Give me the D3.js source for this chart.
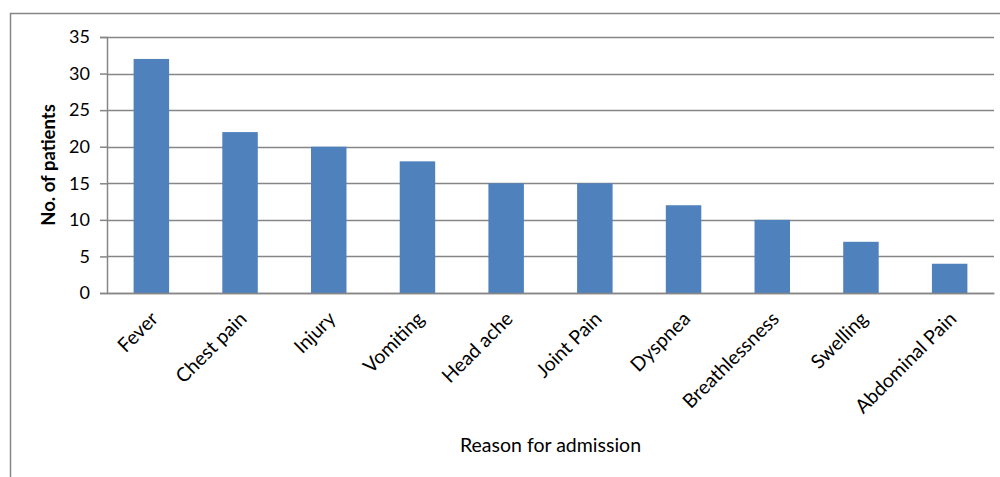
<!DOCTYPE html>
<html>
<head>
<meta charset="utf-8">
<script src="https://cdn.jsdelivr.net/npm/d3@7"></script>
<style>
  body { margin: 0; background: #fff; }
  svg { display: block; font-family: "Lato", "Open Sans", sans-serif; }
</style>
</head>
<body>
<div id="chart"></div>
<script>
// 数据
const categories = ["Fever", "Chest pain", "Injury", "Vomiting", "Head ache", "Joint Pain", "Dyspnea", "Breathlessness", "Swelling", "Abdominal Pain"];
const patients = [32, 22, 20, 18, 15, 15, 12, 10, 7, 4];
const yTicks = [0, 5, 10, 15, 20, 25, 30, 35];

const width = 1000, height = 477;
const margin = { left: 107, right: 6, top: 37, bottom: 184 };

const svg = d3.select("#chart").append("svg")
    .attr("width", width)
    .attr("height", height);

// 外框
svg.append("path")
    .attr("d", `M10.5,${height + 2} V13.5 H${width + 2}`)
    .attr("fill", "none")
    .attr("stroke", "#868686")
    .attr("stroke-width", 1.5);

const x = d3.scaleBand()
    .domain(categories)
    .range([margin.left, width - margin.right])
    .paddingInner(0.6)
    .paddingOuter(0.3);

const y = d3.scaleLinear()
    .domain([0, 35])
    .range([height - margin.bottom, margin.top]);

// 网格线
svg.append("g")
    .selectAll("line")
    .data(yTicks)
    .join("line")
    .attr("x1", margin.left)
    .attr("x2", width - margin.right)
    .attr("y1", d => Math.round(y(d)) + 0.5)
    .attr("y2", d => Math.round(y(d)) + 0.5)
    .attr("stroke", "#868686")
    .attr("stroke-width", 1.5);

// y轴
const yAxis = svg.append("g")
    .attr("transform", `translate(${margin.left},0)`)
    .call(d3.axisLeft(y).tickValues(yTicks).tickSize(7).tickPadding(10));
yAxis.select(".domain").attr("stroke", "#868686").attr("stroke-width", 1.5);
yAxis.selectAll(".tick line").attr("stroke", "#868686").attr("stroke-width", 1.5);
yAxis.selectAll(".tick text")
    .attr("font-size", "18px")
    .attr("fill", "#000")
    .attr("font-family", "Lato, sans-serif");

// 柱子
svg.append("g")
    .selectAll("rect")
    .data(categories)
    .join("rect")
    .attr("x", d => x(d))
    .attr("y", (d, i) => y(patients[i]))
    .attr("width", x.bandwidth())
    .attr("height", (d, i) => y(0) - y(patients[i]))
    .attr("fill", "#4f81bd");

// x轴
const xAxis = svg.append("g")
    .attr("transform", `translate(0,${y(0)})`)
    .call(d3.axisBottom(x).tickSize(0).tickPadding(0));
xAxis.select(".domain").attr("stroke", "#868686").attr("stroke-width", 1.5);
xAxis.selectAll(".tick text")
    .attr("font-size", "19.5px")
    .attr("fill", "#000")
    .attr("font-family", "Lato, sans-serif")
    .attr("text-anchor", "end")
    .attr("dy", 0)
    .attr("transform", "translate(8,27) rotate(-45)");

// 轴标题
svg.append("text")
    .attr("x", (margin.left + width - margin.right) / 2)
    .attr("y", 452)
    .attr("text-anchor", "middle")
    .attr("font-size", "19.5px")
    .attr("fill", "#000")
    .text("Reason for admission");

svg.append("text")
    .attr("transform", `translate(55,${(y(0) + y(35)) / 2}) rotate(-90)`)
    .attr("text-anchor", "middle")
    .attr("font-size", "18.5px")
    .attr("font-weight", "bold")
    .attr("fill", "#000")
    .text("No. of patients");
</script>
</body>
</html>
